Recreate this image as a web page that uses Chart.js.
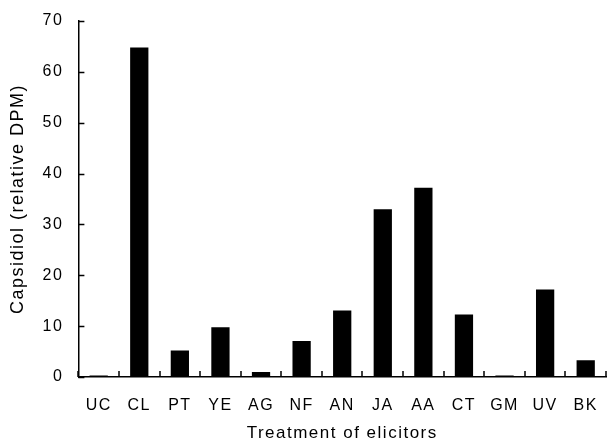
<!DOCTYPE html>
<html>
<head>
<meta charset="utf-8">
<script src="https://cdn.jsdelivr.net/npm/chart.js@4/dist/chart.umd.min.js"></script>
<style>
    html, body { margin: 0; padding: 0; background: #fff; }
    #wrap { width: 607px; height: 445px; }
</style>
</head>
<body>
<div id="wrap"><canvas id="chart"></canvas></div>
<script>
// Data
const categories = ['UC', 'CL', 'PT', 'YE', 'AG', 'NF', 'AN', 'JA', 'AA', 'CT', 'GM', 'UV', 'BK'];
const capsidiol = [0.3, 64.8, 5.2, 9.8, 1.0, 7.1, 13.1, 33.0, 37.2, 12.3, 0.3, 17.2, 3.3];
const yTicks = [0, 10, 20, 30, 40, 50, 60, 70];

const font = 'Liberation Sans, Arial, Helvetica, sans-serif';

// the scanned figure has wide lettering, spread the glyphs a bit
const wideText = {
    id: 'wideText',
    beforeLayout(chart) { chart.ctx.letterSpacing = '1.5px'; },
    beforeDraw(chart) { chart.ctx.letterSpacing = '1.5px'; }
};

// draws short inward tick marks, like the original figure
const inwardTicks = {
    id: 'inwardTicks',
    afterDatasetsDraw(chart) {
        const { ctx, chartArea, scales } = chart;
        const len = 6;
        ctx.save();
        ctx.strokeStyle = '#000';
        ctx.lineWidth = 1.5;
        ctx.beginPath();
        yTicks.forEach(v => {
            const y = Math.round(scales.y.getPixelForValue(v)) + 0.5;
            ctx.moveTo(chartArea.left, y);
            ctx.lineTo(chartArea.left + len, y);
        });
        // x ticks sit between categories
        for (let i = 0; i <= categories.length; i++) {
            const x = Math.round(scales.x.getPixelForValue(i - 0.5));
            ctx.moveTo(x, chartArea.bottom);
            ctx.lineTo(x, chartArea.bottom - len);
        }
        ctx.stroke();
        ctx.restore();
    }
};

new Chart(document.getElementById('chart'), {
    type: 'bar',
    data: {
        labels: categories,
        datasets: [{
            data: capsidiol,
            backgroundColor: '#000',
            borderWidth: 0,
            barPercentage: 0.45,
            categoryPercentage: 1
        }]
    },
    options: {
        responsive: true,
        maintainAspectRatio: false,
        animation: false,
        layout: { padding: { top: 0, right: 1, left: 0, bottom: 0 } },
        plugins: {
            legend: { display: false },
            tooltip: { enabled: false }
        },
        scales: {
            x: {
                offset: true,
                grid: { display: false, drawTicks: false },
                border: { display: true, color: '#000', width: 1.5 },
                ticks: {
                    color: '#000',
                    padding: 8,
                    maxRotation: 0,
                    autoSkip: false,
                    // tall line box pushes the labels down without widening the side padding
                    font: { family: font, size: 16, lineHeight: 2.6 }
                },
                title: {
                    display: true,
                    text: 'Treatment of elicitors',
                    color: '#000',
                    padding: { top: -11, bottom: 1 },
                    font: { family: font, size: 17 }
                }
            },
            y: {
                min: 0,
                max: 70,
                afterBuildTicks: axis => {
                    axis.ticks = yTicks.map(v => ({ value: v }));
                },
                grid: { display: false, drawTicks: false },
                border: { display: true, color: '#000', width: 1.5 },
                ticks: {
                    color: '#000',
                    padding: 15,
                    font: { family: font, size: 16, lineHeight: 0.75 }
                },
                title: {
                    display: true,
                    text: 'Capsidiol (relative DPM)',
                    color: '#000',
                    padding: { top: 7, bottom: -1 },
                    font: { family: font, size: 18 }
                }
            }
        }
    },
    plugins: [wideText, inwardTicks]
});
</script>
</body>
</html>
